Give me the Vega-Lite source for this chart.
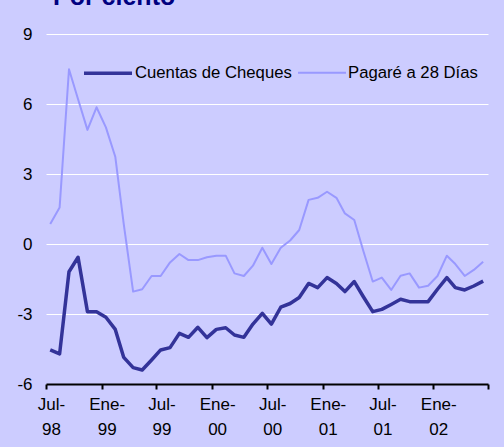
{
  "$schema": "https://vega.github.io/schema/vega-lite/v6.json",
  "width": 442,
  "height": 350,
  "autosize": {"type": "none"},
  "padding": {"left": 46, "top": 34, "right": 16, "bottom": 63},
  "background": "#CCCCFF",
  "title": {"text": "Por ciento", "anchor": "start", "frame": "group", "font": "Liberation Sans", "fontSize": 25, "fontWeight": "bold", "color": "#000080", "baseline": "alphabetic", "offset": 0, "dx": 7, "dy": 5},
  "data": {"values": [
    {"mes": "1998-07-15", "Cuentas de Cheques": -4.54, "Pagaré a 28 Días": 0.86},
    {"mes": "1998-08-15", "Cuentas de Cheques": -4.71, "Pagaré a 28 Días": 1.56},
    {"mes": "1998-09-15", "Cuentas de Cheques": -1.19, "Pagaré a 28 Días": 7.49},
    {"mes": "1998-10-15", "Cuentas de Cheques": -0.57, "Pagaré a 28 Días": 6.2},
    {"mes": "1998-11-15", "Cuentas de Cheques": -2.9, "Pagaré a 28 Días": 4.89},
    {"mes": "1998-12-15", "Cuentas de Cheques": -2.9, "Pagaré a 28 Días": 5.86},
    {"mes": "1999-01-15", "Cuentas de Cheques": -3.14, "Pagaré a 28 Días": 5.0},
    {"mes": "1999-02-15", "Cuentas de Cheques": -3.66, "Pagaré a 28 Días": 3.74},
    {"mes": "1999-03-15", "Cuentas de Cheques": -4.86, "Pagaré a 28 Días": 0.85},
    {"mes": "1999-04-15", "Cuentas de Cheques": -5.3, "Pagaré a 28 Días": -2.04},
    {"mes": "1999-05-15", "Cuentas de Cheques": -5.4, "Pagaré a 28 Días": -1.94},
    {"mes": "1999-06-15", "Cuentas de Cheques": -4.97, "Pagaré a 28 Días": -1.37},
    {"mes": "1999-07-15", "Cuentas de Cheques": -4.54, "Pagaré a 28 Días": -1.37},
    {"mes": "1999-08-15", "Cuentas de Cheques": -4.44, "Pagaré a 28 Días": -0.79},
    {"mes": "1999-09-15", "Cuentas de Cheques": -3.83, "Pagaré a 28 Días": -0.43},
    {"mes": "1999-10-15", "Cuentas de Cheques": -4.0, "Pagaré a 28 Días": -0.69},
    {"mes": "1999-11-15", "Cuentas de Cheques": -3.57, "Pagaré a 28 Días": -0.69},
    {"mes": "1999-12-15", "Cuentas de Cheques": -4.01, "Pagaré a 28 Días": -0.57},
    {"mes": "2000-01-15", "Cuentas de Cheques": -3.66, "Pagaré a 28 Días": -0.5},
    {"mes": "2000-02-15", "Cuentas de Cheques": -3.59, "Pagaré a 28 Días": -0.5},
    {"mes": "2000-03-15", "Cuentas de Cheques": -3.9, "Pagaré a 28 Días": -1.26},
    {"mes": "2000-04-15", "Cuentas de Cheques": -4.0, "Pagaré a 28 Días": -1.37},
    {"mes": "2000-05-15", "Cuentas de Cheques": -3.43, "Pagaré a 28 Días": -0.93},
    {"mes": "2000-06-15", "Cuentas de Cheques": -2.97, "Pagaré a 28 Días": -0.16},
    {"mes": "2000-07-15", "Cuentas de Cheques": -3.43, "Pagaré a 28 Días": -0.86},
    {"mes": "2000-08-15", "Cuentas de Cheques": -2.71, "Pagaré a 28 Días": -0.16},
    {"mes": "2000-09-15", "Cuentas de Cheques": -2.55, "Pagaré a 28 Días": 0.15},
    {"mes": "2000-10-15", "Cuentas de Cheques": -2.29, "Pagaré a 28 Días": 0.6},
    {"mes": "2000-11-15", "Cuentas de Cheques": -1.69, "Pagaré a 28 Días": 1.89},
    {"mes": "2000-12-15", "Cuentas de Cheques": -1.87, "Pagaré a 28 Días": 1.98},
    {"mes": "2001-01-15", "Cuentas de Cheques": -1.44, "Pagaré a 28 Días": 2.24},
    {"mes": "2001-02-15", "Cuentas de Cheques": -1.69, "Pagaré a 28 Días": 1.98},
    {"mes": "2001-03-15", "Cuentas de Cheques": -2.04, "Pagaré a 28 Días": 1.31},
    {"mes": "2001-04-15", "Cuentas de Cheques": -1.61, "Pagaré a 28 Días": 1.03},
    {"mes": "2001-05-15", "Cuentas de Cheques": -2.26, "Pagaré a 28 Días": -0.3},
    {"mes": "2001-06-15", "Cuentas de Cheques": -2.9, "Pagaré a 28 Días": -1.61},
    {"mes": "2001-07-15", "Cuentas de Cheques": -2.8, "Pagaré a 28 Días": -1.44},
    {"mes": "2001-08-15", "Cuentas de Cheques": -2.59, "Pagaré a 28 Días": -1.97},
    {"mes": "2001-09-15", "Cuentas de Cheques": -2.37, "Pagaré a 28 Días": -1.36},
    {"mes": "2001-10-15", "Cuentas de Cheques": -2.47, "Pagaré a 28 Días": -1.26},
    {"mes": "2001-11-15", "Cuentas de Cheques": -2.47, "Pagaré a 28 Días": -1.87},
    {"mes": "2001-12-15", "Cuentas de Cheques": -2.47, "Pagaré a 28 Días": -1.79},
    {"mes": "2002-01-15", "Cuentas de Cheques": -1.94, "Pagaré a 28 Días": -1.37},
    {"mes": "2002-02-15", "Cuentas de Cheques": -1.44, "Pagaré a 28 Días": -0.5},
    {"mes": "2002-03-15", "Cuentas de Cheques": -1.87, "Pagaré a 28 Días": -0.86},
    {"mes": "2002-04-15", "Cuentas de Cheques": -1.97, "Pagaré a 28 Días": -1.37},
    {"mes": "2002-05-15", "Cuentas de Cheques": -1.8, "Pagaré a 28 Días": -1.11},
    {"mes": "2002-06-15", "Cuentas de Cheques": -1.59, "Pagaré a 28 Días": -0.76}
  ]},
  "transform": [{"fold": ["Cuentas de Cheques", "Pagaré a 28 Días"], "as": ["serie", "valor"]}],
  "mark": {"type": "line", "strokeJoin": "round"},
  "encoding": {
    "x": {
      "field": "mes", "type": "temporal",
      "scale": {"domain": [{"year": 1998, "month": 7, "date": 1}, {"year": 2002, "month": 7, "date": 1}]},
      "axis": {
        "title": null, "grid": false,
        "values": [
          {"year": 1998, "month": 7, "date": 1}, {"year": 1999, "month": 1, "date": 1},
          {"year": 1999, "month": 7, "date": 1}, {"year": 2000, "month": 1, "date": 1},
          {"year": 2000, "month": 7, "date": 1}, {"year": 2001, "month": 1, "date": 1},
          {"year": 2001, "month": 7, "date": 1}, {"year": 2002, "month": 1, "date": 1},
          {"year": 2002, "month": 7, "date": 1}
        ],
        "labelExpr": "month(datum.value) == 6 ? (year(datum.value) == 2002 ? '' : ['Jul-', timeFormat(datum.value, '%y')]) : ['Ene-', timeFormat(datum.value, '%y')]",
        "labelOffset": 5, "labelPadding": 7, "labelLineHeight": 25,
        "labelFontSize": 17, "labelFont": "Liberation Sans", "labelColor": "black",
        "labelAlign": "center", "labelBaseline": "top", "labelOverlap": false, "labelFlush": false,
        "tickSize": 5, "tickWidth": 2, "tickColor": "black",
        "domainColor": "black", "domainWidth": 2
      }
    },
    "y": {
      "field": "valor", "type": "quantitative",
      "scale": {"domain": [-6, 9], "nice": false, "zero": false},
      "axis": {
        "title": null, "values": [-6, -3, 0, 3, 6, 9],
        "labelExpr": "'' + datum.value",
        "grid": true, "gridColor": "white", "gridWidth": 1,
        "domain": false, "ticks": false, "tickSize": 0, "labelPadding": 14,
        "labelFontSize": 17, "labelFont": "Liberation Sans", "labelColor": "black"
      }
    },
    "color": {
      "field": "serie", "type": "nominal",
      "scale": {"domain": ["Cuentas de Cheques", "Pagaré a 28 Días"], "range": ["#333399", "#9999FF"]},
      "legend": {"orient": "none", "legendX": 36, "legendY": 13, "direction": "horizontal", "title": null, "symbolType": "stroke", "symbolSize": 2304, "labelFontSize": 16.7, "labelFont": "Liberation Sans", "labelColor": "black", "labelOffset": 1, "columnPadding": 2, "padding": 0}
    },
    "strokeWidth": {
      "field": "serie", "type": "nominal",
      "scale": {"domain": ["Cuentas de Cheques", "Pagaré a 28 Días"], "range": [3.5, 2]},
      "legend": {"orient": "none", "legendX": 36, "legendY": 13, "direction": "horizontal", "title": null, "symbolType": "stroke", "symbolSize": 2304, "labelFontSize": 16.7, "labelFont": "Liberation Sans", "labelColor": "black", "labelOffset": 1, "columnPadding": 2, "padding": 0}
    }
  },
  "config": {"view": {"stroke": null}}
}
